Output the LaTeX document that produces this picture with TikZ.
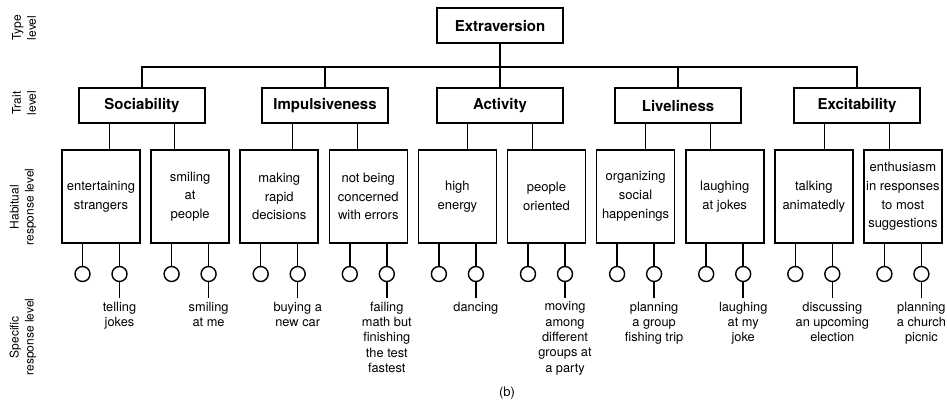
\documentclass[tikz,border=0pt]{standalone}
\usepackage{fontspec}
\setmainfont{TeX Gyre Heros}
\usetikzlibrary{positioning}
\tikzset{
    traitbox/.style={draw, line width=1.6pt, minimum width=126pt, minimum height=35pt,
        inner sep=0pt, font=\fontsize{15}{17}\selectfont\bfseries},
    habitbox/.style={draw, line width=1.6pt, minimum width=78pt, minimum height=93pt,
        inner sep=0pt, align=center, font=\fontsize{13}{18.7}\selectfont},
    knob/.style={draw, circle, line width=1.4pt, minimum size=15pt, inner sep=0pt},
    actlabel/.style={anchor=north, align=center, inner xsep=0pt, inner ysep=4pt,
        font=\fontsize{12.8}{15.3}\selectfont},
    levellabel/.style={rotate=90, align=center, inner sep=0pt, font=\fontsize{12}{15}\selectfont},
    link/.style={line width=1.5pt}
}

\begin{document}
\begin{tikzpicture}[x=1pt, y=-1pt]
    \def \kx {18.5}
    \useasboundingbox (0,0) rectangle (947,405);
    % level names on the left
    \node[levellabel] (lvtype) at (24,28) {Type\\level};
    \node[levellabel] (lvtrait) at (24,103) {Trait\\level};
    \node[levellabel] (lvhabit) at (23,207) {Habitual\\response level};
    \node[levellabel] (lvspec) at (23,337) {Specific\\response level};
    % type and trait level
    \node[traitbox] (ext) at (500,25.5) {Extraversion};
    \coordinate (bus) at (500,67);
    \draw[link] (ext.south) -- (bus);
    \foreach \name/\x/\txt in {soc/142/Sociability, imp/325/Impulsiveness,
        act/500/Activity, liv/678/Liveliness, exc/857/Excitability}{
        \node[traitbox] (\name) at (\x,105.5) {\txt};
        \draw[link] (bus) -| (\name.north);
    }
    % habitual level
    \foreach \i/\txt in {1/entertaining\\strangers, 2/smiling\\at\\people,
        3/making\\rapid\\decisions, 4/not being\\concerned\\with errors,
        5/high\\energy, 6/people\\oriented, 7/organizing\\social\\happenings,
        8/laughing\\at jokes, 9/talking\\animatedly,
        10/enthusiasm\\in responses\\to most\\suggestions}{
        \pgfmathsetmacro\hx{11.9+89.1*\i}
        \node[habitbox] (h\i) at (\hx,196.5) {\txt};
        \node[knob] (ka\i) at (\hx-\kx,274) {};
        \node[knob] (kb\i) at (\hx+\kx,274) {};
        \draw[link] (ka\i.north |- h\i.south) -- (ka\i.north);
        \draw[link] (kb\i.north |- h\i.south) -- (kb\i.north);
    }
    \foreach \name [count=\k] in {soc,imp,act,liv,exc}{
        \pgfmathtruncatemacro\ha{2*\k-1}
        \pgfmathtruncatemacro\hb{2*\k}
        \draw[link] ([xshift=-32.5pt]\name.south) -- ([xshift=-32.5pt]\name.south |- h\ha.north);
        \draw[link] ([xshift=32.5pt]\name.south) -- ([xshift=32.5pt]\name.south |- h\hb.north);
    }
    % specific level
    \foreach \i/\txt in {1/telling\\jokes, 2/smiling\\at me, 3/buying a\\new car,
        4/failing\\math but\\finishing\\the test\\fastest, 5/dancing,
        6/moving\\among\\different\\groups at\\a party, 7/planning\\a group\\fishing trip,
        8/laughing\\at my\\joke, 9/discussing\\an upcoming\\election,
        10/planning\\a church\\picnic}{
        \node[actlabel] (s\i) at ([yshift=-15.5pt]kb\i.south) {\txt};
        \draw[link] (kb\i.south) -- (s\i.north);
    }
    \node[font=\fontsize{13}{15}\selectfont] (cap) at (507,393) {(b)};
\end{tikzpicture}
\end{document}
